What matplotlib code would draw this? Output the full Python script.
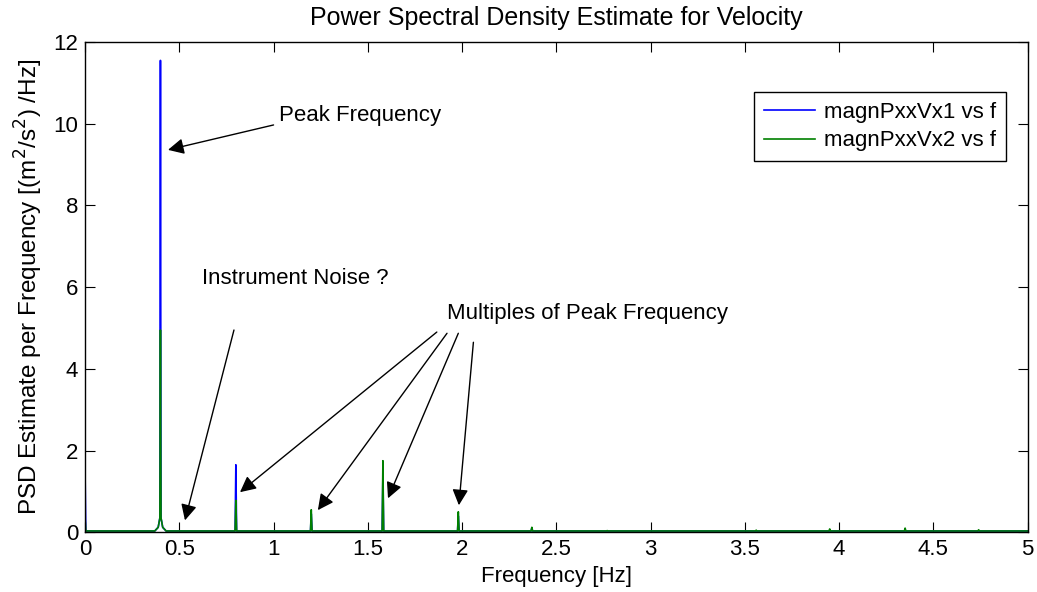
import numpy as np
import matplotlib
matplotlib.use("Agg")
import matplotlib.pyplot as plt

plt.rcParams['font.family'] = ['Liberation Sans', 'DejaVu Sans']

# Peak frequencies (Hz) and PSD heights
peak_freq_1 = [0.0, 0.40, 0.80, 1.20, 1.58, 1.98, 2.37]
peak_psd_1 = [1.52, 11.55, 1.65, 0.45, 1.40, 0.40, 0.10]
peak_freq_2 = [0.0, 0.40, 0.80, 1.20, 1.58, 1.98, 2.37, 2.77, 3.16, 3.56, 3.95, 4.35, 4.74]
peak_psd_2 = [0.37, 4.95, 0.78, 0.55, 1.75, 0.50, 0.12, 0.04, 0.03, 0.05, 0.08, 0.10, 0.06]
noise_floor = 0.03

x_ticks = [0, 0.5, 1, 1.5, 2, 2.5, 3, 3.5, 4, 4.5, 5]
x_tick_labels = ["0", "0.5", "1", "1.5", "2", "2.5", "3", "3.5", "4", "4.5", "5"]
y_ticks = [0, 2, 4, 6, 8, 10, 12]


def spikes(freqs, heights, width=0.004):
    xs, ys = [0.0], [noise_floor]
    for f, h in zip(freqs, heights):
        if f == 0.0:
            xs, ys = [0.0, 0.0, width], [h, h, noise_floor]
            continue
        if h > 3:
            xs += [f - 0.03, f - 0.012, f - 0.003, f, f, f + 0.003, f + 0.012, f + 0.03]
            ys += [noise_floor, 0.12, 0.35, h, h, 0.35, 0.12, noise_floor]
        else:
            xs += [f - width, f, f, f + width]
            ys += [noise_floor, h, h, noise_floor]
    xs.append(5.0)
    ys.append(noise_floor)
    return xs, ys


fig = plt.figure(figsize=(10.37, 5.92), dpi=100)
ax = fig.add_axes([0.082, 0.101, 0.909, 0.828])

x1, y1 = spikes(peak_freq_1, peak_psd_1)
x2, y2 = spikes(peak_freq_2, peak_psd_2)
ax.plot(x1, y1, color='#0000ff', lw=1.2, label='magnPxxVx1 vs f')
ax.plot(x2, y2, color='#008000', lw=1.2, label='magnPxxVx2 vs f')

ax.set_xlim(0, 5)
ax.set_ylim(0, 12)
ax.set_xticks(x_ticks)
ax.set_xticklabels(x_tick_labels)
ax.set_yticks(y_ticks)
ax.tick_params(direction='in', top=True, right=True, labelsize=16, length=7, pad=5)
for s in ax.spines.values():
    s.set_linewidth(1.0)

ax.set_title('Power Spectral Density Estimate for Velocity', fontsize=18, pad=12)
ax.set_xlabel('Frequency [Hz]', fontsize=16, labelpad=4)
ax.set_ylabel('PSD Estimate per Frequency [(m$^2$/s$^2$) /Hz]', fontsize=17.5, labelpad=6)

leg = ax.legend(loc='upper right', bbox_to_anchor=(0.977, 0.899), fontsize=16,
                fancybox=False, edgecolor='black', framealpha=1,
                handlelength=2.3, handletextpad=0.4, borderpad=0.45,
                labelspacing=0.35, borderaxespad=0)
leg.get_frame().set_linewidth(1.0)

aprops = dict(arrowstyle='-|>', color='black', lw=1.0, mutation_scale=24,
              shrinkA=0, shrinkB=0)
fs = 16
ax.text(1.03, 10.2, 'Peak Frequency', fontsize=fs, va='center')
ax.annotate('', xy=(0.44, 9.36), xytext=(1.0, 9.97), arrowprops=aprops)

ax.text(0.62, 6.22, 'Instrument Noise ?', fontsize=fs, va='center')
ax.annotate('', xy=(0.53, 0.29), xytext=(0.79, 4.95), arrowprops=aprops)

ax.text(1.92, 5.36, 'Multiples of Peak Frequency', fontsize=fs, va='center')
ax.annotate('', xy=(0.822, 0.98), xytext=(1.866, 4.9), arrowprops=aprops)
ax.annotate('', xy=(1.235, 0.54), xytext=(1.92, 4.87), arrowprops=aprops)
ax.annotate('', xy=(1.607, 0.83), xytext=(1.98, 4.87), arrowprops=aprops)
ax.annotate('', xy=(1.983, 0.66), xytext=(2.06, 4.65), arrowprops=aprops)

fig.savefig('out.png', dpi=100)
